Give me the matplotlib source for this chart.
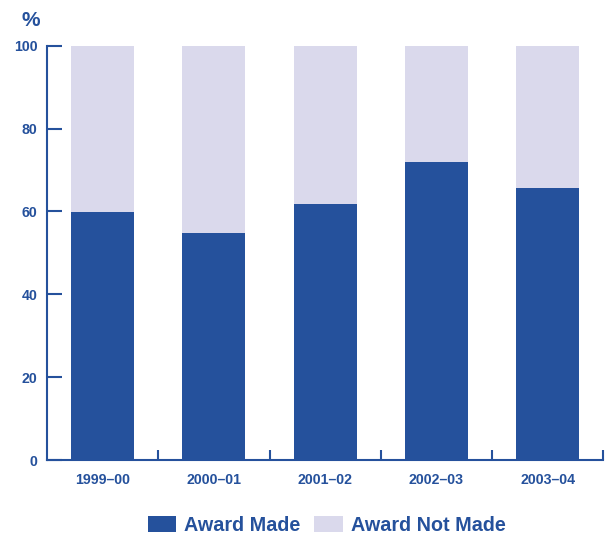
import matplotlib
matplotlib.use('Agg')
from matplotlib import pyplot as plt
from matplotlib.ticker import FixedLocator

years = ['1999–00', '2000–01', '2001–02', '2002–03', '2003–04']
award_made = [59.8, 54.7, 61.7, 72.0, 65.6]
award_not_made = [100 - v for v in award_made]

dark_blue = '#25519C'
light_lilac = '#DAD9EC'

plt.rcParams['font.family'] = ['Liberation Sans', 'DejaVu Sans']
plt.rcParams['font.weight'] = 'bold'

fig = plt.figure(figsize=(6.06, 5.35), dpi=100)
ax = fig.add_axes([0.0776, 0.14, 0.918, 0.7746])

x = list(range(len(years)))
b1 = ax.bar(x, award_made, width=0.565, color=dark_blue, label='Award Made')
b2 = ax.bar(x, award_not_made, width=0.565, bottom=award_made,
            color=light_lilac, label='Award Not Made')

ax.set_xlim(-0.5, len(years) - 0.5)
ax.set_ylim(0, 100)
ax.set_yticks([0, 20, 40, 60, 80, 100])
ax.set_xticks(x)
ax.set_xticklabels(years)
ax.xaxis.set_minor_locator(FixedLocator([i + 0.5 for i in range(len(years))]))

for side in ['top', 'right']:
    ax.spines[side].set_visible(False)
for side in ['left', 'bottom']:
    ax.spines[side].set_color(dark_blue)
    ax.spines[side].set_linewidth(1.5)

ax.tick_params(axis='y', direction='in', length=11, width=1.5, color=dark_blue,
               labelcolor=dark_blue, labelsize=10.2, pad=7)
ax.tick_params(axis='x', which='major', length=0, labelcolor=dark_blue,
               labelsize=10.2, pad=9)
ax.tick_params(axis='x', which='minor', direction='in', length=7, width=1.5,
               color=dark_blue)

fig.text(0.036, 0.952, '%', color=dark_blue, fontsize=15, fontweight='bold')

fig.legend(handles=[b1, b2], loc='lower center', bbox_to_anchor=(0.539, -0.033),
           ncol=2, frameon=False, fontsize=14.2, handlelength=1.45,
           handleheight=0.9, handletextpad=0.4, columnspacing=0.7,
           labelcolor=dark_blue)

fig.savefig('out.png', dpi=100)
